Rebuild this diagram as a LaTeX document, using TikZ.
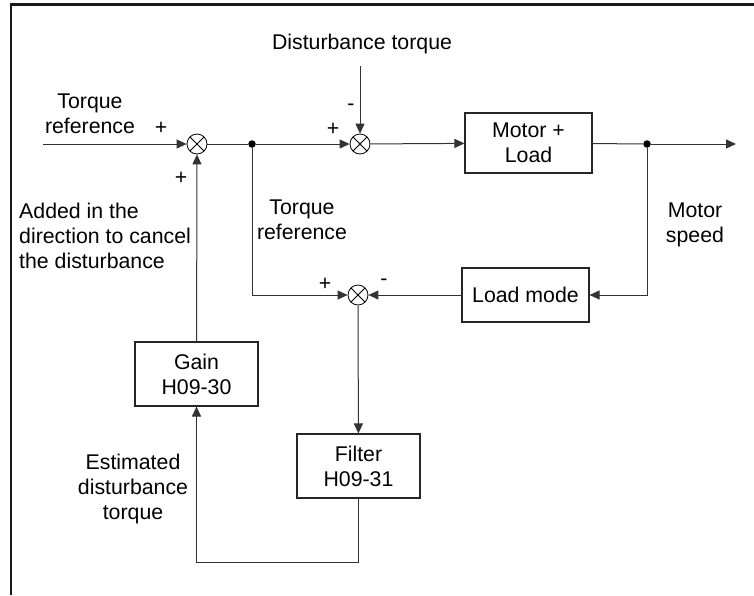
\documentclass[tikz,border=0pt]{standalone}
\usepackage{fontspec}
\setmainfont{Liberation Sans}
\usetikzlibrary{arrows.meta}
\begin{document}
\begin{tikzpicture}[x=1pt,y=-1pt,
  every node/.style={font=\fontsize{21.3}{25}\selectfont, inner sep=0pt},
  blockbox/.style={draw=black!85, line width=1.1pt, align=center},
  sumj/.style={circle, draw=black, line width=0.8pt, minimum size=20pt, inner sep=0pt,
    path picture={\draw[line width=0.8pt] ([shift={(45:10pt)}]path picture bounding box.center) -- ([shift={(225:10pt)}]path picture bounding box.center);
                  \draw[line width=0.8pt] ([shift={(135:10pt)}]path picture bounding box.center) -- ([shift={(315:10pt)}]path picture bounding box.center);}},
  dotj/.style={circle, fill=black, minimum size=7.5pt, inner sep=0pt},
  conn/.style={draw=black!80, line width=1pt},
  arr/.style={conn, -{Triangle[length=10pt,width=9pt]}},
  lbl/.style={align=center},
]
\useasboundingbox (0,0) rectangle (754,595);
% border
\draw[line width=2.5pt, black!90] (11,595) -- (11,4.5) -- (754,4.5);

% nodes
\node[sumj] (s1) at (197,144) {};
\node[sumj] (s2) at (360,144) {};
\node[sumj] (s3) at (358,295) {};
\node[dotj] (j1) at (252,144) {};
\node[dotj] (j2) at (647,144) {};
\node[blockbox, minimum width=127pt, minimum height=60pt] (motor) at (528.5,143) {Motor +\\Load};
\node[blockbox, minimum width=127pt, minimum height=54pt] (load) at (525.5,295) {Load mode};
\node[blockbox, minimum width=123pt, minimum height=64pt] (gain) at (196.5,374) {Gain\\H09-30};
\node[blockbox, minimum width=123pt, minimum height=64pt] (filter) at (358.5,466) {Filter\\H09-31};

\coordinate (in) at (43,144);
\coordinate (out) at (736,144);
\coordinate (dist) at (360,66);
\coordinate (bot) at (358.5,562);

% connectors
\draw[arr] (in) -- (s1);
\draw[conn] (s1) -- (j1);
\draw[arr] (j1) -- (s2);
\draw[arr] (dist) -- (s2);
\draw[arr] (s2) -- (motor);
\draw[conn] (motor) -- (j2);
\draw[arr] (j2) -- (out);
\draw[arr] (j2) |- (load);
\draw[arr] (load) -- (s3);
\draw[arr] (j1) |- (s3);
\draw[arr] (s3) -- (filter);
\draw[arr] (filter.south) -- (bot) -| (gain.south);
\draw[arr] (gain) -- (s1);

% labels
\node[lbl] (t1) at (90,114) {Torque\\reference};
\node (p1) at (161,128) {+};
\node (p2) at (181,178) {+};
\node[align=left, anchor=west] (t2) at (19,236) {Added in the\\direction to cancel\\the disturbance};
\node[lbl] (t3) at (302,220) {Torque\\reference};
\node (p3) at (333,129) {+};
\node (m1) at (351,107) {-};
\node (t4) at (362,44) {Disturbance torque};
\node[lbl] (t5) at (695,225) {Motor\\speed};
\node (p4) at (325,284) {+};
\node (m2) at (384,282) {-};
\node[lbl] (t6) at (133,489) {Estimated\\disturbance\\torque};
\end{tikzpicture}
\end{document}
